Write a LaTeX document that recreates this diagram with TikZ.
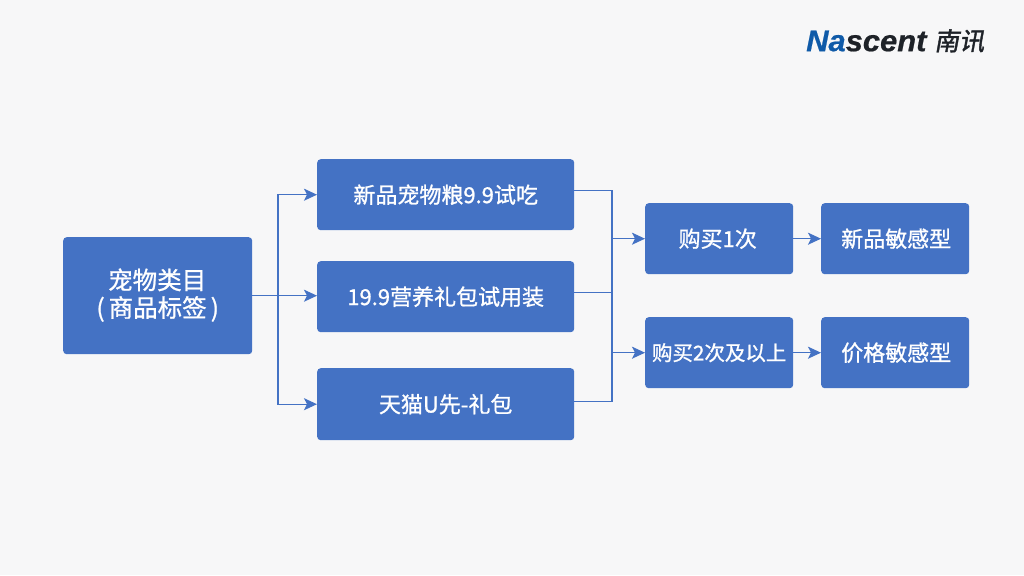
\documentclass[tikz,border=0pt]{standalone}
\usepackage{fontspec}
\usepackage{graphicx}
\usetikzlibrary{arrows.meta,calc}
\setmainfont[FakeBold=1]{Noto Sans CJK SC}
\newfontfamily\logofont[FakeBold=0.6]{Liberation Sans}
\newfontfamily\logocn[FakeSlant=0.18,FakeBold=1.6]{Noto Sans CJK SC}
\definecolor{bg}{HTML}{F7F7F8}
\definecolor{boxblue}{HTML}{4472C4}
\definecolor{logoblue}{HTML}{0F5AA8}
\definecolor{logoblack}{HTML}{1E2228}
\tikzset{
  x=1pt,y=-1pt,
  boxn/.style={fill=boxblue,draw=none,rounded corners=3.5pt,text=white,align=center,inner sep=0pt,font=\fontsize{22}{30}\selectfont},
  wire/.style={draw=boxblue,line width=1.2pt},
  arr/.style={wire,-{Stealth[length=13pt,width=12pt,inset=3pt]}},
}
\newcommand{\bx}[7][]{\node[boxn,minimum width=#5pt,minimum height=#6pt,anchor=north west,#1] (#2) at (#3,#4) {#7};}
\begin{document}
\begin{tikzpicture}
\useasboundingbox (0,0) rectangle (1024,575);
\fill[bg] (0,0) rectangle (1024,575);
\bx[font=\fontsize{24.5}{30}\selectfont]{a}{63}{237}{189}{117}{\raisebox{6pt}{\shortstack[c]{\hspace{-1pt}宠物类目\\[2pt](\hspace{4pt}商品标签\hspace{4pt})}}}
\bx{b1}{317}{159}{257}{71}{\raisebox{-1pt}{新品宠物粮9.9试吃}}
\bx{b2}{317}{261}{257}{71}{19.9营养礼包试用装}
\bx{b3}{317}{368}{257}{72}{天猫U先-礼包}
\bx{c1}{645}{203}{148}{71}{\raisebox{1pt}{\hspace{-3pt}购买1次}}
\bx[font=\fontsize{20.5}{28}\selectfont]{c2}{645}{317}{148}{71}{购买2次及以上}
\bx{d1}{821}{203}{148}{71}{\raisebox{1.5pt}{\hspace{2pt}新品敏感型}}
\bx{d2}{821}{317}{148}{71}{\hspace{2pt}价格敏感型}
% left fan-out
\coordinate (jl) at (278,0);
\draw[arr] (a.east) -- (a.east -| b2.west);
\draw[arr] (a.east -| jl) -- (b1.west -| jl) -- (b1.west);
\draw[arr] (a.east -| jl) -- (b3.west -| jl) -- (b3.west);
% right merge
\coordinate (jr) at (612,0);
\coordinate (s1) at ($(b1.east)+(0,-4)$);
\coordinate (s2) at ($(b2.east)+(0,-4)$);
\coordinate (s3) at ($(b3.east)+(0,-3)$);
\draw[wire] (s1) -- (s1 -| jr) -- (s3 -| jr) -- (s3);
\draw[wire] (s2) -- (s2 -| jr);
\draw[arr] (c1.west -| jr) -- (c1.west);
\draw[arr] (c2.west -| jr) -- (c2.west);
\draw[arr] (c1.east) -- (d1.west);
\draw[arr] (c2.east) -- (d2.west);
% logo
\node[anchor=west,inner sep=0pt,font=\logofont\fontsize{30}{30}\selectfont\bfseries\itshape] (logo) at (806,41) {\scalebox{1.03}[1]{\textcolor{logoblue}{Na}\textcolor{logoblack}{scent}}};
\node[anchor=west,inner sep=0pt,text=logoblack,font=\logocn\fontsize{25}{25}\selectfont] (logocn) at (934,41) {南讯};
\end{tikzpicture}
\end{document}
